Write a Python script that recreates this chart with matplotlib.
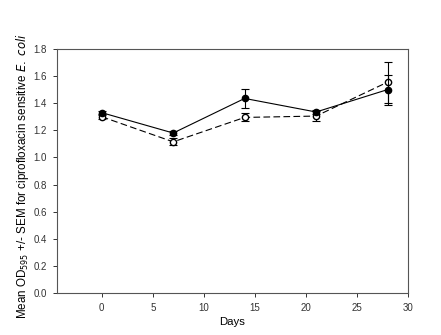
import numpy as np
import matplotlib
matplotlib.use('Agg')
import matplotlib.pyplot as plt

plt.rcParams['font.family'] = ['Liberation Sans', 'DejaVu Sans']

# Data
days = [0, 7, 14, 21, 28]
filled_mean = [1.33, 1.18, 1.435, 1.335, 1.50]
filled_sem = [0.015, 0.015, 0.07, 0.015, 0.11]
open_mean = [1.30, 1.115, 1.295, 1.305, 1.555]
open_sem = [0.02, 0.025, 0.03, 0.04, 0.15]

fig = plt.figure(figsize=(4.41, 3.35), dpi=100)
ax = fig.add_axes([0.129, 0.125, 0.796, 0.729])

ax.errorbar(days, filled_mean, yerr=filled_sem, color='black', lw=0.8,
            marker='o', ms=4.5, mfc='black', mec='black', capsize=3,
            elinewidth=0.8, capthick=0.8, zorder=3)
ax.errorbar(days, open_mean, yerr=open_sem, color='black', lw=0.8,
            ls=(0, (6, 3)), marker='o', ms=4.5, mfc='white', mec='black',
            capsize=3, elinewidth=0.8, capthick=0.8, zorder=2)

ax.set_xlim(-4.4, 30)
ax.set_ylim(0, 1.8)
ax.set_xticks([0, 5, 10, 15, 20, 25, 30])
ax.set_yticks(np.arange(0, 1.81, 0.2))
ax.yaxis.set_major_formatter(matplotlib.ticker.FormatStrFormatter('%.1f'))
ax.tick_params(direction='out', length=3, width=0.7, labelsize=7, colors='#333333', pad=4)
for s in ax.spines.values():
    s.set_color('#555555')
    s.set_linewidth(0.8)

ax.set_xlabel('Days', fontsize=8.2, labelpad=3)
ax.set_ylabel(r'Mean OD$_{595}$ +/- SEM for ciprofloxacin sensitive $\it{E.}$ $\it{coli}$',
              fontsize=8.4)
ax.yaxis.set_label_coords(-0.075, 0.48)

fig.savefig('out.png', dpi=100)
